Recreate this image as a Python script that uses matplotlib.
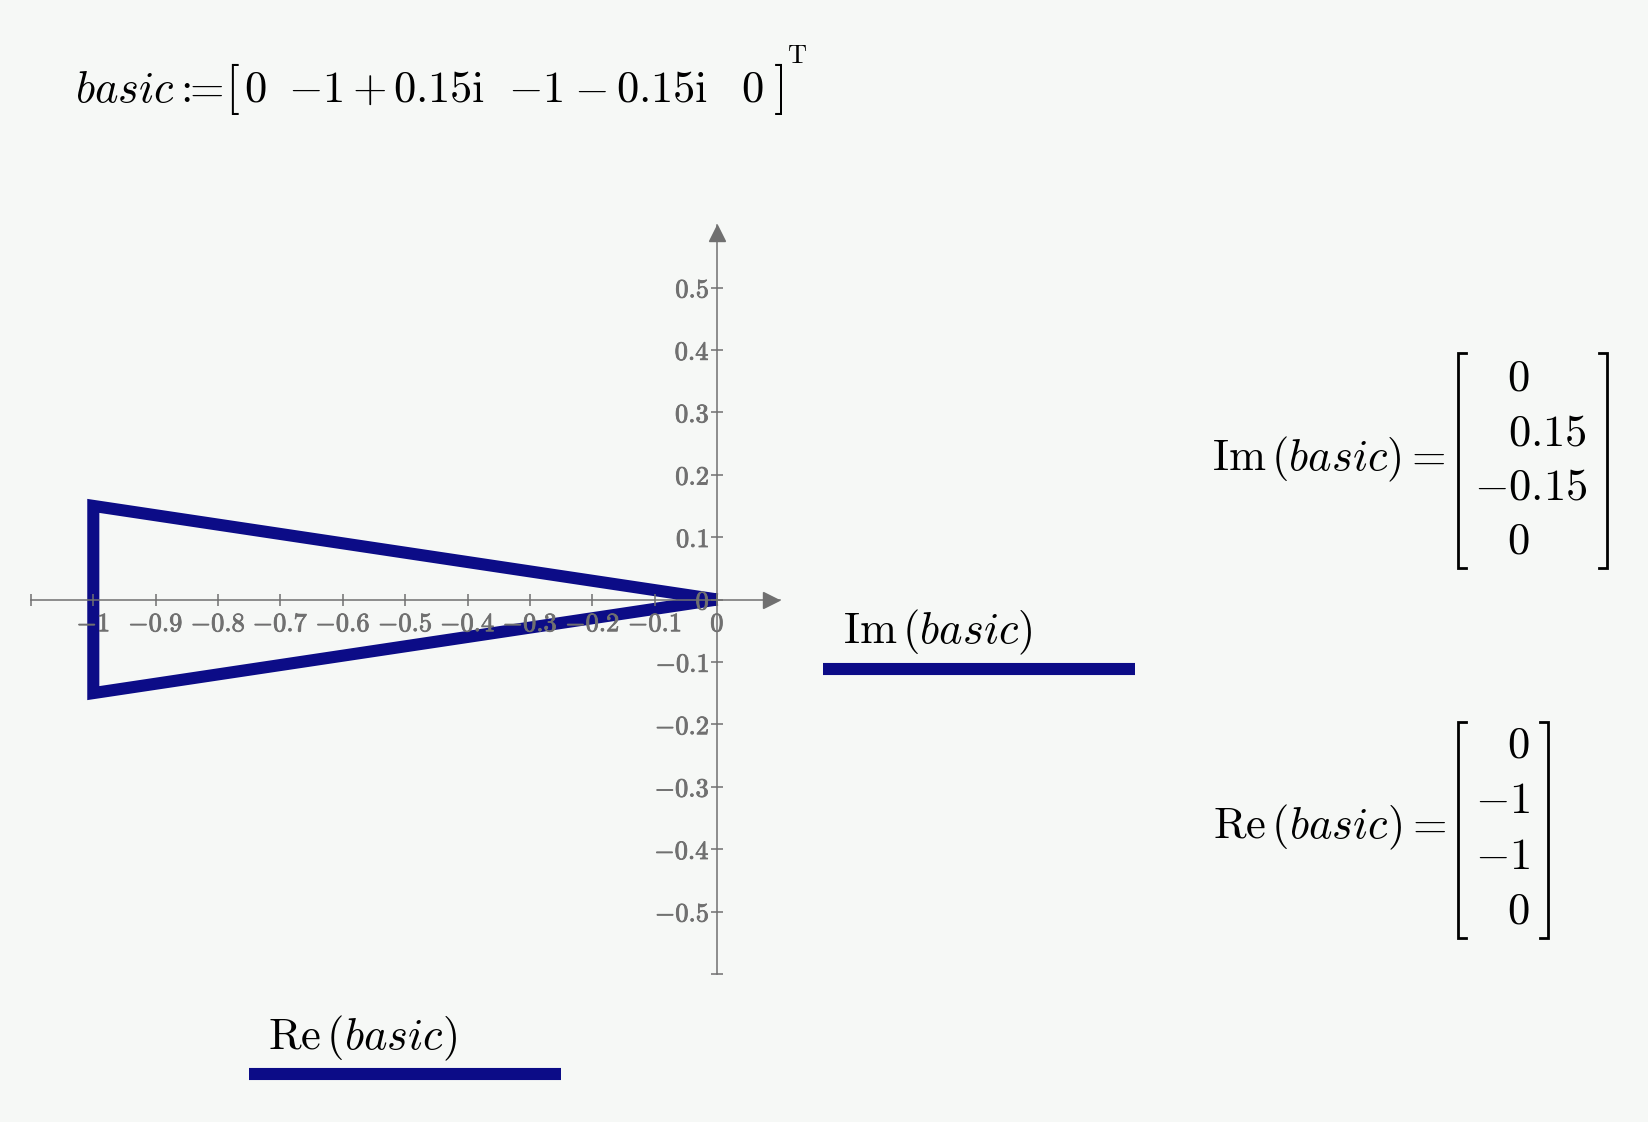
import matplotlib.pyplot as plt
from matplotlib.lines import Line2D
import matplotlib.patheffects as pe

plt.rcParams['mathtext.fontset'] = 'cm'

# data: the complex vector "basic"
basic_re = [0, -1, -1, 0]
basic_im = [0, 0.15, -0.15, 0]

x_ticks = [-1.1, -1.0, -0.9, -0.8, -0.7, -0.6, -0.5, -0.4, -0.3, -0.2, -0.1, 0.0]
y_ticks = [-0.6, -0.5, -0.4, -0.3, -0.2, -0.1, 0.0, 0.1, 0.2, 0.3, 0.4, 0.5]

BG = '#f6f8f6'
NAVY = '#0c0c87'
GRAY = '#707070'
W, H = 1649, 1122
FS = 32


def fx(px):
    return px / W


def fy(py):
    return 1 - py / H


fig = plt.figure(figsize=(W / 100, H / 100), dpi=100, facecolor=BG)

# plot area: origin at (717, 599.5) px, 624 px per unit
unit = 624.0
ox, oy = 717.3, 599.5
ax = fig.add_axes([fx(ox - 1.1 * unit), fy(oy + 0.6 * unit), 1.2 * unit / W, 1.2 * unit / H])
ax.set_xlim(-1.1, 0.1)
ax.set_ylim(-0.6, 0.6)
ax.set_facecolor('none')
ax.set_axisbelow(False)
for s in ['top', 'right']:
    ax.spines[s].set_visible(False)
for s in ['left', 'bottom']:
    ax.spines[s].set_position(('data', 0))
    ax.spines[s].set_color(GRAY)
    ax.spines[s].set_linewidth(1.1)
    ax.spines[s].set_zorder(3)

ax.set_xticks(x_ticks)
ax.set_xticklabels(['' if t < -1.05 else r'$\mathbf{%s}$' % f'{round(t, 1):g}' for t in x_ticks])
ax.set_yticks(y_ticks)
ax.set_yticklabels(['' if t < -0.55 else r'$\mathbf{%s}$' % f'{round(t, 1):g}' for t in y_ticks])
ax.tick_params(direction='inout', length=9, width=1.1, color=GRAY, labelcolor=GRAY, labelsize=19)
ax.tick_params(axis='x', pad=4)
ax.tick_params(axis='y', pad=1)
for lab in ax.get_xticklabels() + ax.get_yticklabels():
    lab.set_path_effects([pe.withStroke(linewidth=0.6, foreground=GRAY)])

ax.plot(basic_re, basic_im, color=NAVY, lw=8.7, solid_joinstyle='miter',
        solid_capstyle='butt', clip_on=False, zorder=2)

# arrow heads at the axis ends
d = (12 / 72 * 100 / 2) / unit
ax.plot([0.1 - d], [0], marker='>', ms=12, color=GRAY, clip_on=False, zorder=3)
ax.plot([0], [0.6 - d], marker='^', ms=12, color=GRAY, clip_on=False, zorder=3)

# formula at top, placed piece by piece
title_parts = [
    (75, r'$basic:\!\!\!=$', FS, 'left'),
    (225, r'$\mathrm{[}$', 36, 'left'),
    (244, r'$0$', FS, 'left'),
    (288, r'$-1$', FS, 'left'),
    (352, r'$\mathrm{+}$', FS, 'left'),
    (393, r'$0.15\mathrm{i}$', FS, 'left'),
    (508, r'$-1$', FS, 'left'),
    (574, r'$\mathrm{-}$', FS, 'left'),
    (616, r'$0.15\mathrm{i}$', FS, 'left'),
    (741, r'$0$', FS, 'left'),
    (783, r'$\mathrm{]}$', 36, 'right'),
]
for x, s, size, ha in title_parts:
    fig.text(fx(x), fy(102), s, fontsize=size, va='baseline', ha=ha)
fig.text(fx(787), fy(63), r'$\mathrm{T}$', fontsize=19, va='baseline', ha='left')

# trace labels
fig.text(fx(843), fy(643), r'$\mathrm{Im}\,(basic)$', fontsize=FS, va='baseline')
fig.add_artist(Line2D([fx(823), fx(1135)], [fy(669), fy(669)], color=NAVY, lw=8.7,
                      solid_capstyle='butt'))
fig.text(fx(268), fy(1049), r'$\mathrm{Re}\,(basic)$', fontsize=FS, va='baseline')
fig.add_artist(Line2D([fx(249), fx(561)], [fy(1074), fy(1074)], color=NAVY, lw=8.7,
                      solid_capstyle='butt'))


def bracket(x, y0, y1, side):
    s = 8 if side == 'l' else -8
    fig.add_artist(Line2D([fx(x + s), fx(x), fx(x), fx(x + s)],
                          [fy(y0), fy(y0), fy(y1), fy(y1)], color='black', lw=2.0,
                          solid_joinstyle='miter'))


def matrix(label, values, label_y, rows_y, xl, xr, top, bottom, xdec=1530):
    fig.text(fx(1446), fy(label_y), label, fontsize=FS, va='baseline', ha='right')
    bracket(xl, top, bottom, 'l')
    bracket(xr, top, bottom, 'r')
    em = FS * 100 / 72
    for v, ry in zip(values, rows_y):
        s = f'{v:g}'
        fp = s.partition('.')[2]
        xr_txt = xdec + (0.5 * em * len(fp) + 0.278 * em if fp else 0)
        fig.text(fx(xr_txt), fy(ry), r'$%s$' % s, fontsize=FS, va='baseline', ha='right')


matrix(r'$\mathrm{Im}\,(basic)=$', basic_im, 470, [390, 445, 500, 553],
       1458, 1607, 353, 568)
matrix(r'$\mathrm{Re}\,(basic)=$', basic_re, 838, [758, 813, 869, 923],
       1458, 1548, 722, 938)

fig.savefig('out.png', dpi=100, facecolor=BG)
